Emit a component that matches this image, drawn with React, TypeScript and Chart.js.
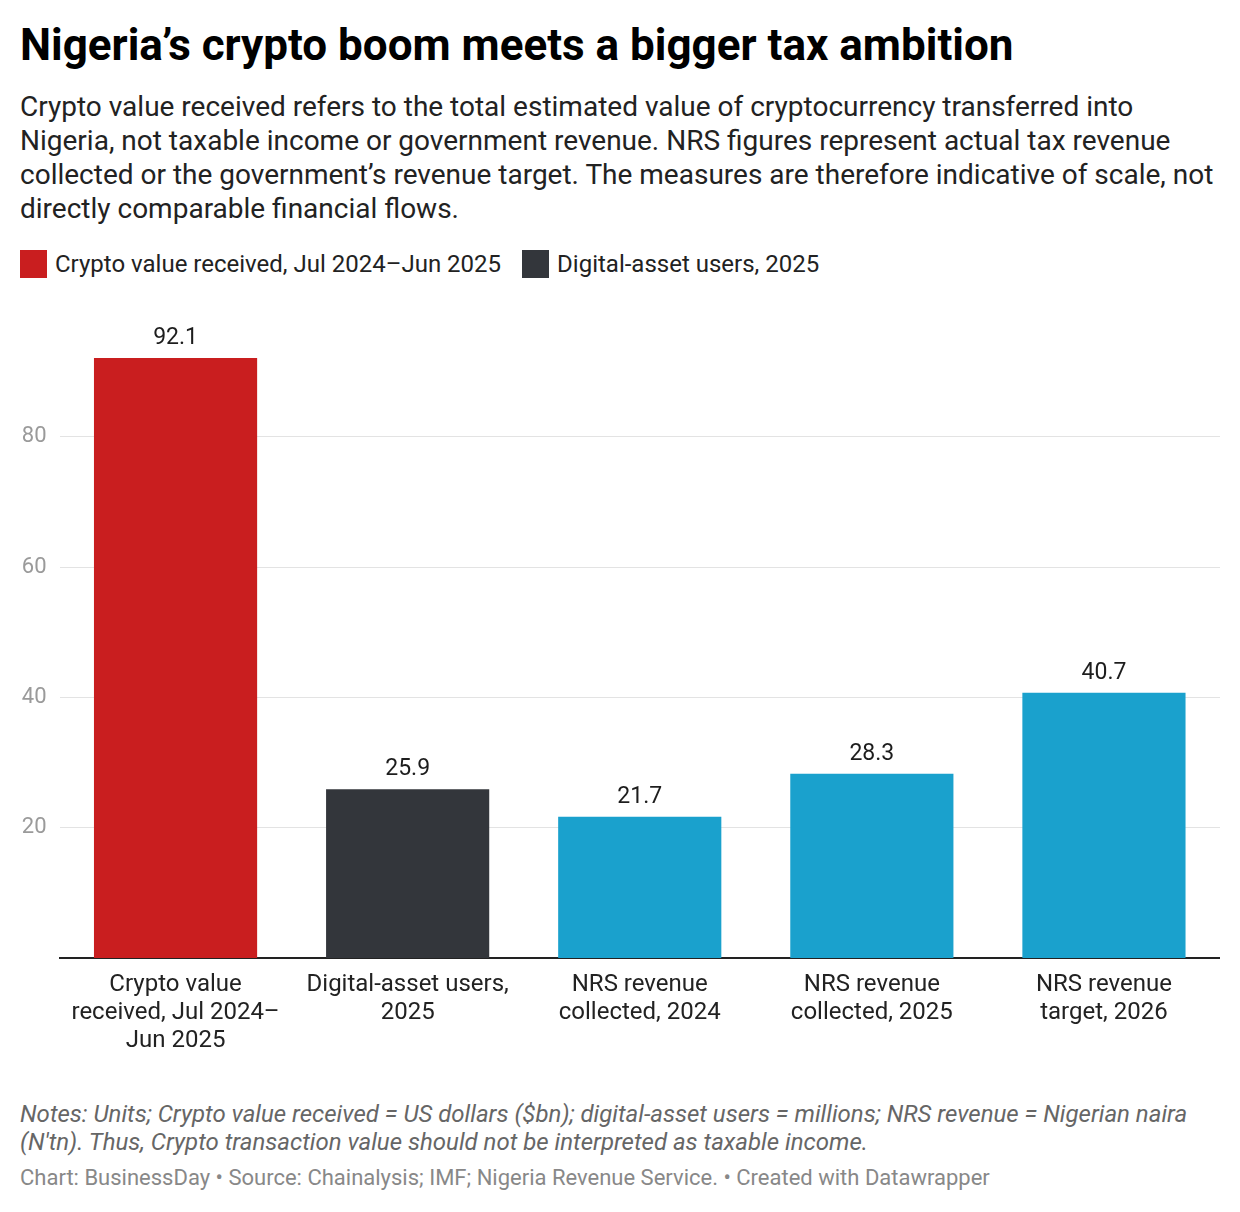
import React, { useEffect, useRef } from "react";
import { Chart, registerables } from "chart.js";

Chart.register(...registerables);

const categories: string[][] = [
  ["Crypto value", "received, Jul 2024–", "Jun 2025"],
  ["Digital-asset users,", "2025"],
  ["NRS revenue", "collected, 2024"],
  ["NRS revenue", "collected, 2025"],
  ["NRS revenue", "target, 2026"],
];
const values: number[] = [92.1, 25.9, 21.7, 28.3, 40.7];
const barColors: string[] = ["#c91e1f", "#33363b", "#1aa1cd", "#1aa1cd", "#1aa1cd"];
const yTicks: number[] = [20, 40, 60, 80];
const legendItems: { label: string; color: string }[] = [
  { label: "Crypto value received, Jul 2024–Jun 2025", color: "#c91e1f" },
  { label: "Digital-asset users, 2025", color: "#33363b" },
];

const FONT = "Roboto, 'Noto Sans', sans-serif";

const valueLabelPlugin = {
  id: "valueLabels",
  afterDatasetsDraw(chart: any) {
    const ctx = chart.ctx;
    const meta = chart.getDatasetMeta(0);
    ctx.save();
    ctx.font = `400 23px ${FONT}`;
    ctx.fillStyle = "#1d1d1d";
    ctx.textAlign = "center";
    ctx.textBaseline = "alphabetic";
    meta.data.forEach((bar: any, i: number) => {
      ctx.fillText(values[i].toFixed(1), bar.x, bar.y - 14);
    });
    ctx.restore();
  },
};

export default function App() {
  const ref = useRef<HTMLCanvasElement | null>(null);

  useEffect(() => {
    if (!ref.current) return;
    const chart = new Chart(ref.current, {
      type: "bar",
      data: {
        labels: categories,
        datasets: [
          {
            data: values,
            backgroundColor: barColors,
            barPercentage: 0.703,
            categoryPercentage: 1,
            borderWidth: 0,
          },
        ],
      },
      options: {
        animation: false,
        responsive: false,
        maintainAspectRatio: false,
        devicePixelRatio: 1,
        layout: { padding: { top: 58, right: 0, left: 0, bottom: 0 } },
        plugins: {
          legend: { display: false },
          tooltip: { enabled: false },
        },
        scales: {
          x: {
            grid: { display: false, drawTicks: false },
            border: { display: true, color: "#222", width: 2 },
            ticks: {
              color: "#222",
              padding: 13,
              maxRotation: 0,
              autoSkip: false,
              font: { family: FONT, size: 24, lineHeight: 28 / 24 },
            },
            afterFit: (s: any) => {
              s.height = 107;
            },
          },
          y: {
            min: 0,
            max: 92.1,
            grid: { color: "#e3e3e3", lineWidth: 1, drawTicks: false },
            border: { display: false },
            afterBuildTicks: (s: any) => {
              s.ticks = yTicks.map((v) => ({ value: v }));
            },
            ticks: {
              color: "#9a9a9a",
              padding: 13,
              font: { family: FONT, size: 22 },
              callback: (v: any) => String(v),
            },
            afterFit: (s: any) => {
              s.width = 39.5;
            },
          },
        },
      },
      plugins: [valueLabelPlugin],
    });
    return () => chart.destroy();
  }, []);

  return (
    <div
      style={{
        width: 1200,
        padding: "13px 12px 0 12px",
        fontFamily: FONT,
        color: "#1d1d1d",
        background: "#fff",
      }}
    >
      <div style={{ fontSize: 44, fontWeight: 700, lineHeight: "48px", color: "#000", whiteSpace: "nowrap" }}>
        Nigeria’s crypto boom meets a bigger tax ambition
      </div>
      <div style={{ fontSize: 28, lineHeight: "34px", marginTop: 21, color: "#222" }}>
        Crypto value received refers to the total estimated value of cryptocurrency transferred into
        Nigeria, not taxable income or government revenue. NRS figures represent actual tax revenue
        collected or the government’s revenue target. The measures are therefore indicative of scale,
        not directly comparable financial flows.
      </div>
      <div style={{ display: "flex", marginTop: 24, height: 28, alignItems: "center" }}>
        {legendItems.map((it) => (
          <div key={it.label} style={{ display: "flex", alignItems: "center", marginRight: 21 }}>
            <span
              style={{ display: "inline-block", width: 27, height: 28, background: it.color, marginRight: 8 }}
            />
            <span style={{ fontSize: 24, lineHeight: "28px", color: "#222", whiteSpace: "nowrap" }}>{it.label}</span>
          </div>
        ))}
      </div>
      <div style={{ marginTop: 22 }}>
        <canvas ref={ref} width={1200} height={765} style={{ display: "block", width: 1200, height: 765 }} />
      </div>
      <div style={{ marginTop: 35, fontSize: 24, lineHeight: "28px", fontStyle: "italic", color: "#666" }}>
        Notes: Units; Crypto value received = US dollars ($bn); digital-asset users = millions; NRS revenue =
        Nigerian naira (N'tn). Thus, Crypto transaction value should not be interpreted as taxable income.
      </div>
      <div style={{ marginTop: 8, fontSize: 22, lineHeight: "28px", color: "#888" }}>
        Chart: BusinessDay • Source: Chainalysis; IMF; Nigeria Revenue Service. • Created with Datawrapper
      </div>
    </div>
  );
}
